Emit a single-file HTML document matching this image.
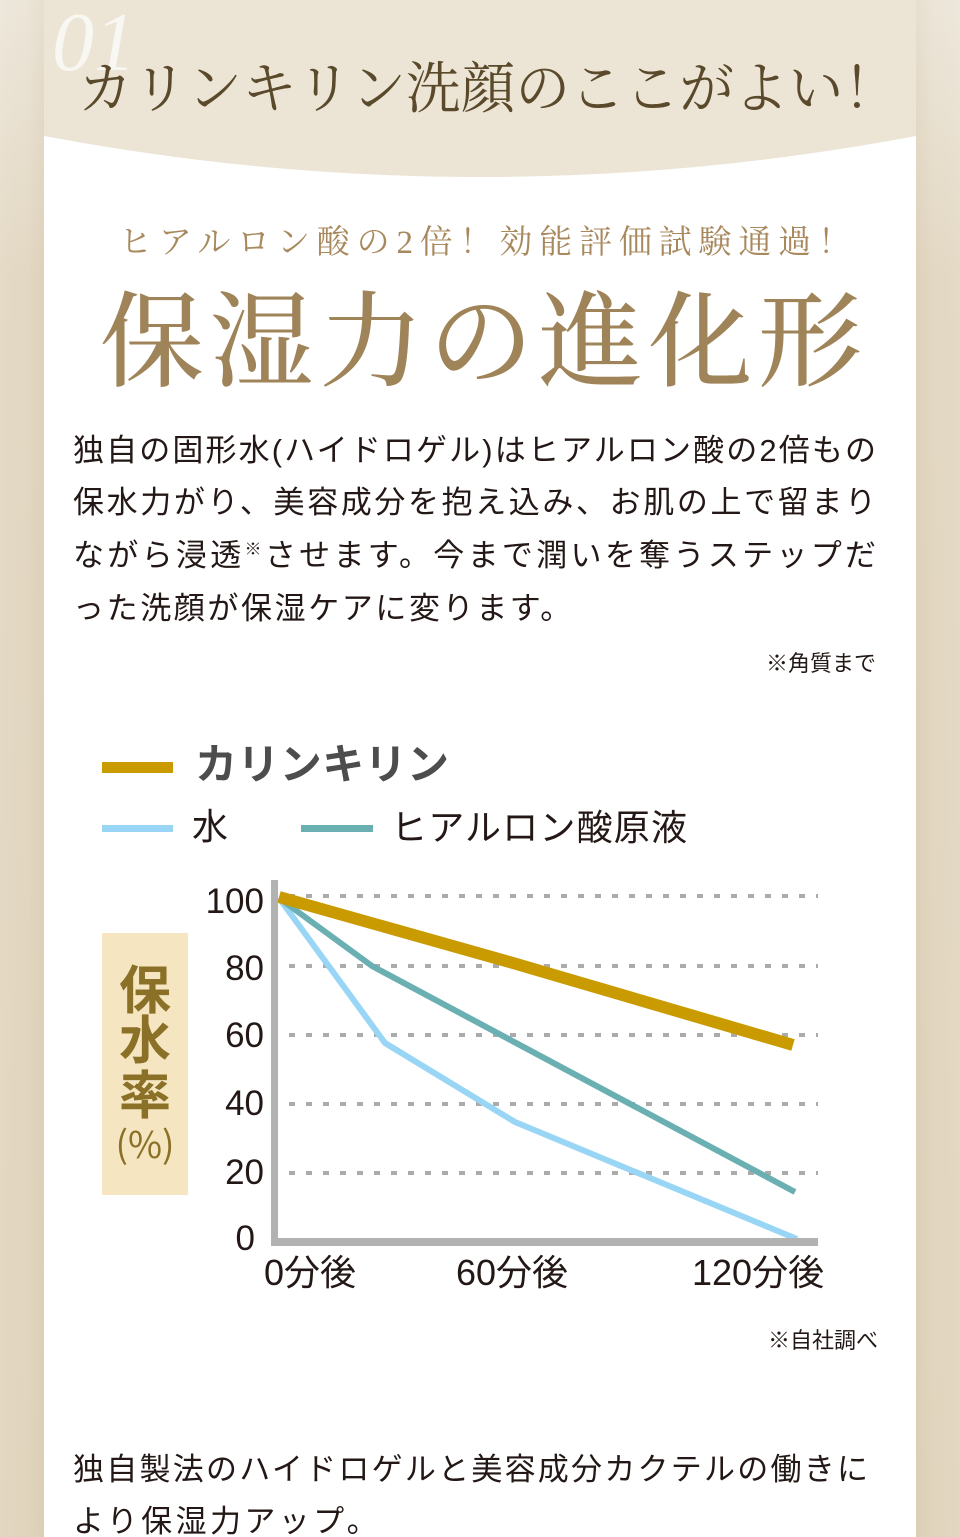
<!DOCTYPE html>
<html><head><meta charset="utf-8">
<style>
html,body{margin:0;padding:0;background:#e4d9c4;}
body{width:960px;height:1537px;overflow:hidden;}
svg{display:block;}
</style></head>
<body>
<svg width="960" height="1537" viewBox="0 0 960 1537" xmlns="http://www.w3.org/2000/svg">
<defs>
<linearGradient id="sideV" x1="0" y1="0" x2="0" y2="1">
<stop offset="0" stop-color="#eee8dc"/>
<stop offset="0.18" stop-color="#e5dac6"/>
<stop offset="1" stop-color="#e3d7c1"/>
</linearGradient>
<linearGradient id="shL" x1="0" y1="0" x2="1" y2="0">
<stop offset="0" stop-color="#000" stop-opacity="0"/>
<stop offset="0.6" stop-color="#8a6a30" stop-opacity="0.02"/>
<stop offset="1" stop-color="#8a6a30" stop-opacity="0.08"/>
</linearGradient>
<linearGradient id="shR" x1="1" y1="0" x2="0" y2="0">
<stop offset="0" stop-color="#000" stop-opacity="0"/>
<stop offset="0.6" stop-color="#8a6a30" stop-opacity="0.02"/>
<stop offset="1" stop-color="#8a6a30" stop-opacity="0.08"/>
</linearGradient>
</defs>
<rect x="0" y="0" width="960" height="1537" fill="url(#sideV)"/>
<rect x="0" y="0" width="44" height="1537" fill="url(#shL)"/>
<rect x="916" y="0" width="44" height="1537" fill="url(#shR)"/>
<rect x="44" y="0" width="872" height="1537" fill="#ffffff"/>
<path d="M44 0 H916 V136 Q480 218 44 136 Z" fill="#ece4d5"/>

<text x="52" y="70" font-family="'Liberation Serif',serif" font-style="italic" font-size="84" fill="#f9f7f2">01</text>
<text x="78" y="108" font-family="'Liberation Serif','Noto Serif CJK SC',serif" font-size="56" fill="#5a4a2b" textLength="820" lengthAdjust="spacingAndGlyphs">カリンキリン洗顔のここがよい！</text>

<text x="119" y="253" font-family="'Liberation Serif','Noto Serif CJK SC',serif" font-size="33" fill="#a8895d" textLength="732" lengthAdjust="spacing">ヒアルロン酸の2倍！効能評価試験通過！</text>
<text x="100" y="378" font-family="'Liberation Serif','Noto Serif CJK SC',serif" font-size="104" font-weight="500" fill="#a08459" textLength="762" lengthAdjust="spacing">保湿力の進化形</text>

<g font-family="'Liberation Sans','Noto Sans CJK JP',sans-serif" font-size="31" fill="#231815">
<text x="73" y="461" textLength="803" lengthAdjust="spacing">独自の固形水(ハイドロゲル)はヒアルロン酸の2倍もの</text>
<text x="73" y="513" textLength="803" lengthAdjust="spacing">保水力がり、美容成分を抱え込み、お肌の上で留まり</text>
<text x="73" y="566" textLength="803" lengthAdjust="spacing">ながら浸透<tspan font-size="17" dy="-11">※</tspan><tspan dy="11">させます。今まで潤いを奪うステップだ</tspan></text>
<text x="73" y="619" letter-spacing="2.6">った洗顔が保湿ケアに変ります。</text>
<text x="876" y="671" font-size="22" text-anchor="end">※角質まで</text>
<text x="878" y="1348" font-size="22" text-anchor="end">※自社調べ</text>
<text x="73" y="1480" textLength="795" lengthAdjust="spacing">独自製法のハイドロゲルと美容成分カクテルの働きに</text>
<text x="73" y="1532" letter-spacing="3.4">より保湿力アップ。</text>
</g>

<!-- legend -->
<rect x="102" y="762" width="71" height="11" fill="#c99b00"/>
<text x="195" y="779" font-family="'Liberation Sans','Noto Sans CJK JP',sans-serif" font-size="42" font-weight="700" fill="#4d4d4d" textLength="254" lengthAdjust="spacing">カリンキリン</text>
<rect x="102" y="825" width="71" height="7" fill="#99d5f5"/>
<text x="192" y="839" font-family="'Liberation Sans','Noto Sans CJK JP',sans-serif" font-size="36" fill="#231815">水</text>
<rect x="301" y="825" width="72" height="7" fill="#6aafb2"/>
<text x="391" y="840" font-family="'Liberation Sans','Noto Sans CJK JP',sans-serif" font-size="36" fill="#231815" textLength="296" lengthAdjust="spacing">ヒアルロン酸原液</text>

<!-- y label box -->
<rect x="102" y="933" width="86" height="262" fill="#f5e6c1"/>
<g font-family="'Liberation Sans','Noto Sans CJK JP',sans-serif" font-weight="700" font-size="52" fill="#8b7127" text-anchor="middle">
<text x="145" y="1009">保</text>
<text x="145" y="1059">水</text>
<text x="145" y="1114">率</text>
</g>
<text x="145" y="1158" font-family="'Noto Sans CJK JP',sans-serif" font-size="37" fill="#8b7127" text-anchor="middle">(%)</text>

<!-- grid -->
<g stroke="#ababab" stroke-width="4" stroke-dasharray="6 11">
<line x1="289" y1="896" x2="818" y2="896"/>
<line x1="289" y1="966" x2="818" y2="966"/>
<line x1="289" y1="1035" x2="818" y2="1035"/>
<line x1="289" y1="1104" x2="818" y2="1104"/>
<line x1="289" y1="1173" x2="818" y2="1173"/>
</g>

<!-- series -->
<polyline points="279,898 385,1043 515,1122 797,1239" fill="none" stroke="#99d5f5" stroke-width="6" stroke-linejoin="round"/>
<polyline points="279,898 372,966 795,1192" fill="none" stroke="#6aafb2" stroke-width="6" stroke-linejoin="round"/>
<polyline points="279,897 513,963 793,1045" fill="none" stroke="#c99b00" stroke-width="12" stroke-linejoin="round"/>

<!-- axes -->
<rect x="271" y="880" width="7" height="366" fill="#b2b2b2"/>
<rect x="271" y="1238" width="547" height="8" fill="#b2b2b2"/>

<!-- tick labels -->
<g font-family="'Liberation Sans','Noto Sans CJK JP',sans-serif" font-size="35" fill="#231815" text-anchor="end">
<text x="264" y="913">100</text>
<text x="264" y="980">80</text>
<text x="264" y="1047">60</text>
<text x="264" y="1115">40</text>
<text x="264" y="1184">20</text>
<text x="255" y="1250">0</text>
</g>
<g font-family="'Liberation Sans','Noto Sans CJK JP',sans-serif" font-size="36" fill="#231815">
<text x="264" y="1285">0分後</text>
<text x="456" y="1285">60分後</text>
<text x="692" y="1285">120分後</text>
</g>
</svg>
</body></html>
